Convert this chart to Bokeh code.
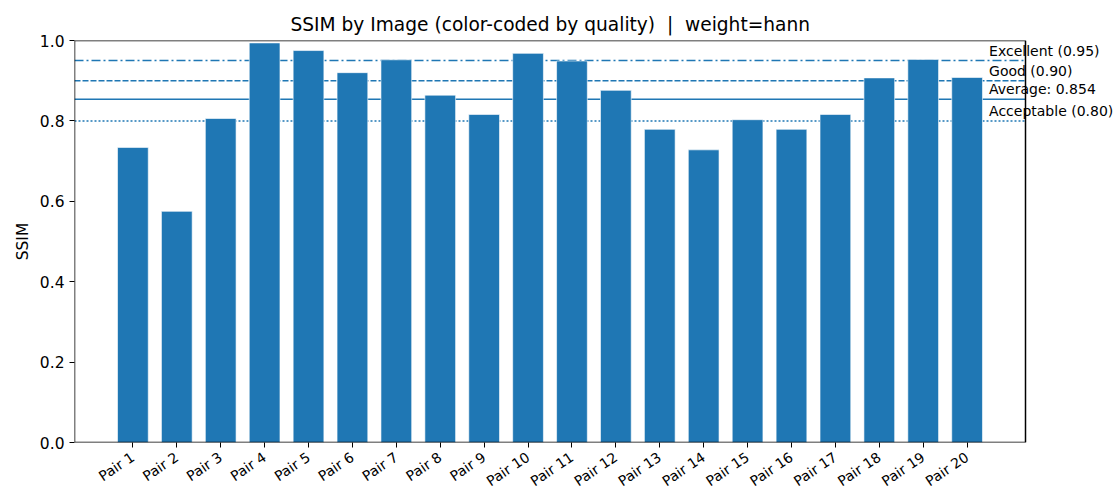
import math
from bokeh.plotting import figure
from bokeh.models import ColumnDataSource, Range1d, FixedTicker, PrintfTickFormatter, Label
from bokeh.embed import file_html
from bokeh.resources import INLINE

pairs = [f"Pair {i}" for i in range(1, 21)]
ssim = [0.734, 0.575, 0.806, 0.994, 0.975, 0.920, 0.952, 0.864, 0.816, 0.968,
        0.949, 0.876, 0.779, 0.728, 0.803, 0.779, 0.816, 0.907, 0.953, 0.908]
thresholds = [0.95, 0.90, 0.80]
threshold_names = ["Excellent", "Good", "Acceptable"]
average = 0.854

BLUE = "#1f77b4"
FONT = "DejaVu Sans"

n = len(pairs)
xs = list(range(n))
src = ColumnDataSource(dict(x=xs, top=ssim, name=pairs))

# axes box spans x_lo..x_hi; the frame extends further right to hold the labels
x_lo, x_hi = -1.33, n - 1 + 1.33
px_per_unit = 951 / (x_hi - x_lo)
frame_w = 1040
x_end = x_lo + frame_w / px_per_unit

p = figure(frame_width=frame_w, frame_height=402, output_backend="svg", toolbar_location=None,
           x_range=Range1d(x_lo, x_end), y_range=Range1d(0, 1.0),
           min_border_left=74, min_border_right=4, min_border_top=40, min_border_bottom=58,
           title="SSIM by Image (color-coded by quality)\u00a0 |\u00a0 weight=hann")

p.title.align = "left"
p.title.offset = 216
p.title.text_font = FONT
p.title.text_font_size = "18.6px"
p.title.text_font_style = "normal"
p.title.text_color = "black"
p.title.standoff = 11

p.xgrid.visible = False
p.ygrid.visible = False
p.outline_line_color = None
p.background_fill_color = None
p.border_fill_color = "white"

# threshold and average lines (beneath bars)
dashes = {0.95: "9 3 2 3", 0.90: "6 2", 0.80: "2 2"}
for t in thresholds:
    p.segment(x0=x_lo, x1=x_hi, y0=t, y1=t, line_color=BLUE, line_width=1.5,
              line_dash=dashes[t])
p.segment(x0=x_lo, x1=x_hi, y0=average, y1=average, line_color=BLUE, line_width=1.5)

p.vbar(x="x", top="top", width=0.7, bottom=0, source=src, fill_color=BLUE,
       line_color="white", line_alpha=0.6, line_width=1)

# axes box
p.quad(left=x_lo, right=x_hi, bottom=0, top=1.0, fill_color=None,
       line_color="black", line_width=1.5)

# labels at the right
label_x = n - 1 + 0.5
texts = [(0.95, "Excellent (0.95)"), (0.90, "Good (0.90)"),
         (average, f"Average: {average:.3f}"), (0.80, "Acceptable (0.80)")]
for yv, txt in texts:
    p.add_layout(Label(x=label_x, y=yv, text=txt, x_offset=0, y_offset=2,
                       text_font=FONT, text_font_size="14px", text_color="black",
                       text_baseline="bottom", text_align="left"))

# axes
p.xaxis.ticker = FixedTicker(ticks=xs)
p.xaxis.major_label_overrides = {i: nm for i, nm in zip(xs, pairs)}
p.xaxis.major_label_orientation = math.radians(34)
p.xaxis.major_label_text_font = FONT
p.xaxis.major_label_text_font_size = "14px"
p.xaxis.minor_tick_line_color = None
p.xaxis.axis_line_color = None
p.xaxis.major_label_standoff = 8

p.yaxis.ticker = FixedTicker(ticks=[0.0, 0.2, 0.4, 0.6, 0.8, 1.0])
p.yaxis.formatter = PrintfTickFormatter(format="%.1f")
p.yaxis.major_label_text_font = FONT
p.yaxis.major_label_text_font_size = "15.5px"
p.yaxis.minor_tick_line_color = None
p.yaxis.axis_line_color = None
p.yaxis.axis_label = "SSIM"
p.yaxis.axis_label_text_font = FONT
p.yaxis.axis_label_text_font_size = "15.5px"
p.yaxis.axis_label_text_font_style = "normal"
p.yaxis.axis_label_text_color = "black"
p.yaxis.major_label_standoff = 5

for ax in (p.xaxis, p.yaxis):
    ax.major_tick_in = 0
    ax.major_tick_out = 5
    ax.major_tick_line_color = "black"
    ax.major_label_text_color = "black"

open("out.html", "w").write(file_html(p, INLINE))
